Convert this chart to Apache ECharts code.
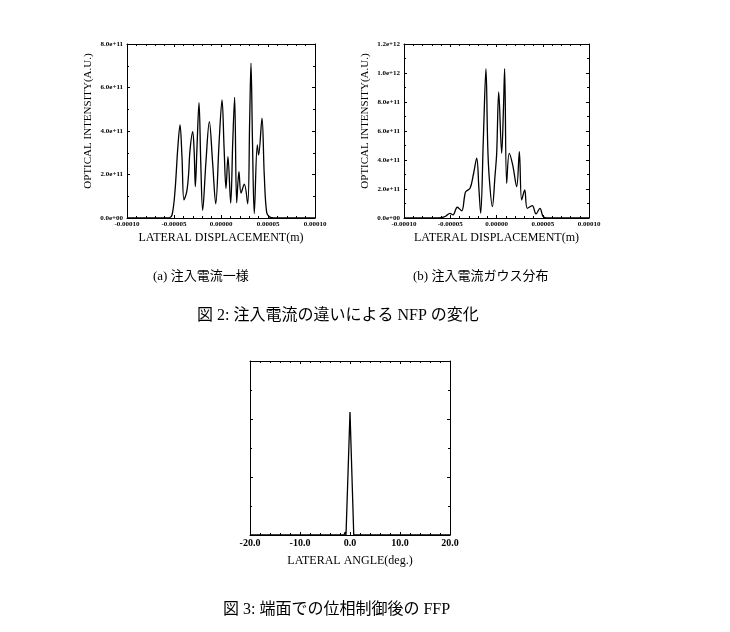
<!DOCTYPE html>
<html>
<head>
<meta charset="utf-8">
<script src="https://cdn.jsdelivr.net/npm/echarts@6/dist/echarts.min.js"></script>
<style>html,body{margin:0;padding:0;background:#fff;}#c{width:730px;height:632px;}</style>
</head>
<body>
<div id="c"></div>
<script>
// (a) uniform injection current: lateral displacement (m) vs optical intensity
var aX = [-1.0e-4,-6.0e-5,-5.5e-5,-5.2e-5,-4.9e-5,-4.6e-5,-4.36e-5,-4.15e-5,-3.94e-5,-3.65e-5,-3.45e-5,-3.30e-5,-3.01e-5,-2.85e-5,-2.73e-5,-2.55e-5,-2.34e-5,-2.15e-5,-1.95e-5,-1.6e-5,-1.24e-5,-0.9e-5,-0.56e-5,-0.2e-5,0.11e-5,0.33e-5,0.53e-5,0.74e-5,1.03e-5,1.25e-5,1.45e-5,1.67e-5,1.91e-5,2.13e-5,2.48e-5,2.84e-5,3.05e-5,3.19e-5,3.35e-5,3.54e-5,3.86e-5,4.0e-5,4.36e-5,4.6e-5,4.86e-5,5.2e-5,5.6e-5,1.0e-4];
var aY = [0,0,0.01e11,0.15e11,1.2e11,3.2e11,4.28e11,2.8e11,0.83e11,1.2e11,2.0e11,3.1e11,3.97e11,3.0e11,1.44e11,3.3e11,5.3e11,2.5e11,0.35e11,2.6e11,4.43e11,2.6e11,0.65e11,3.5e11,5.43e11,3.2e11,1.36e11,2.82e11,0.68e11,3.5e11,5.55e11,0.7e11,2.13e11,1.15e11,1.56e11,0.65e11,4.5e11,7.12e11,3.5e11,0.2e11,3.36e11,2.9e11,4.59e11,2.0e11,0.25e11,0.04e11,0.005e11,0];
// (b) Gaussian injection current
var bX = [-1.0e-4,-6.5e-5,-6.0e-5,-5.5e-5,-5.03e-5,-4.7e-5,-4.24e-5,-3.76e-5,-3.45e-5,-3.33e-5,-2.86e-5,-2.5e-5,-2.14e-5,-1.9e-5,-1.71e-5,-1.42e-5,-1.14e-5,-0.95e-5,-0.78e-5,-0.45e-5,-0.15e-5,0.02e-5,0.24e-5,0.56e-5,0.75e-5,0.88e-5,1.1e-5,1.38e-5,1.75e-5,2.18e-5,2.47e-5,2.72e-5,3.05e-5,3.33e-5,3.87e-5,4.27e-5,4.7e-5,5.0e-5,5.24e-5,5.6e-5,1.0e-4];
var bY = [0,0,0.02e11,0.12e11,0.32e11,0.22e11,0.74e11,0.5e11,1.5e11,1.81e11,2.05e11,3.0e11,4.12e11,2.0e11,0.32e11,5.5e11,10.3e11,5.0e11,2.74e11,0.78e11,3.0e11,4.46e11,8.7e11,4.46e11,7.5e11,10.3e11,2.39e11,4.46e11,3.66e11,2.16e11,4.57e11,1.24e11,1.93e11,0.67e11,0.85e11,0.28e11,0.67e11,0.15e11,0.02e11,0,0];
// Fig.3 far-field pattern: lateral angle (deg) vs intensity
var cX = [-20,-1.2,-0.95,-0.8,0,0.75,20];
var cY = [0,0,0.05,0,2.12,0,0];
// tick settings
var dispTicks = {min:-1.0e-4, max:1.0e-4, interval:5e-5};
var aTicks = {min:0, max:8e11, interval:2e11};
var bTicks = {min:0, max:1.2e12, interval:2e11};
var angTicks = {min:-20, max:20, interval:10};
var cTicks = {min:0, max:3, interval:1};
// captions
var capA = '(a) 注入電流一様';
var capB = '(b) 注入電流ガウス分布';
var cap2 = '図 2: 注入電流の違いによる NFP の変化';
var cap3 = '図 3: 端面での位相制御後の FFP';
var yName = 'OPTICAL INTENSITY(A.U.)';
var xNameD = 'LATERAL DISPLACEMENT(m)';
var xNameA = 'LATERAL ANGLE(deg.)';

function zip(x,y){return x.map(function(v,i){return [v,y[i]];});}
var SERIF = '"Liberation Serif","DejaVu Serif",serif';
var JP = '"Liberation Serif","Noto Sans CJK JP",serif';
function expFmt(v){
  if (Math.abs(v) < 1) return '0.0e+00';
  var s = v.toExponential(1); var p = s.split('e');
  var e = parseInt(p[1],10);
  return p[0] + 'e' + (e<0?'-':'+') + (Math.abs(e)<10?'0':'') + Math.abs(e);
}
function dispFmt(v){ if (Math.abs(v)<1e-12) return '0.00000'; return v.toFixed(5); }
var lineStyle = {color:'#000', width:1.3};
var axLine = {show:true, onZero:false, lineStyle:{color:'#000', width:1}};
var tickIn = {show:true, inside:true, length:3, lineStyle:{color:'#000'}};
var minorIn = {show:true, splitNumber:2, length:2, lineStyle:{color:'#000'}};

function lbl(fs){ return {fontFamily:SERIF, fontSize:fs, fontWeight:'bold', color:'#000'}; }

function xAx(g, t, pos, fmt, name, extra){
  var o = {type:'value', gridIndex:g, position:pos, min:t.min, max:t.max, interval:t.interval,
    axisLine:axLine, axisTick:tickIn, splitLine:{show:false},
    minorTick:{show:true, splitNumber:5, length:2, lineStyle:{color:'#000'}},
    axisLabel: pos==='bottom' ? Object.assign({formatter:fmt, margin:3}, lbl(extra.lfs)) : {show:false}};
  if (name){ o.name=name; o.nameLocation='middle'; o.nameGap=extra.gap;
    o.nameTextStyle={fontFamily:SERIF, fontSize:extra.fs, color:'#000'}; }
  return o;
}
function yAx(g, t, pos, fmt, name, extra){
  var o = {type:'value', gridIndex:g, position:pos, min:t.min, max:t.max, interval:t.interval,
    axisLine:axLine, axisTick:tickIn, splitLine:{show:false}, minorTick:minorIn,
    axisLabel: (pos==='left' && fmt) ? Object.assign({formatter:fmt, margin:4}, lbl(7)) : {show:false}};
  if (name){ o.name=name; o.nameLocation='middle'; o.nameGap=extra.gap; o.nameRotate=90;
    o.nameTextStyle={fontFamily:SERIF, fontSize:extra.fs, color:'#000', padding:[0,0,0,20]}; }
  return o;
}

var chart = echarts.init(document.getElementById('c'), null, {renderer:'canvas'});
chart.setOption({
  backgroundColor:'#fff',
  animation:false,
  grid:[
    {left:127, top:44, width:188, height:174},
    {left:404, top:44, width:185, height:174},
    {left:250, top:361, width:200, height:174}
  ],
  xAxis:[
    xAx(0, dispTicks, 'bottom', dispFmt, xNameD, {gap:14, fs:12, lfs:7}),
    xAx(0, dispTicks, 'top', null, null, {}),
    xAx(1, dispTicks, 'bottom', dispFmt, xNameD, {gap:14, fs:12, lfs:7}),
    xAx(1, dispTicks, 'top', null, null, {}),
    xAx(2, angTicks, 'bottom', function(v){return v.toFixed(1);}, xNameA, {gap:20, fs:12, lfs:10}),
    xAx(2, angTicks, 'top', null, null, {})
  ],
  yAxis:[
    yAx(0, aTicks, 'left', expFmt, yName, {gap:33, fs:11}),
    yAx(0, aTicks, 'right'),
    yAx(1, bTicks, 'left', expFmt, yName, {gap:33, fs:11}),
    yAx(1, bTicks, 'right'),
    yAx(2, cTicks, 'left'),
    yAx(2, cTicks, 'right')
  ],
  series:[
    {type:'line', xAxisIndex:0, yAxisIndex:0, data:zip(aX,aY), smooth:0.35, showSymbol:false, lineStyle:lineStyle},
    {type:'line', xAxisIndex:2, yAxisIndex:2, data:zip(bX,bY), smooth:0.35, showSymbol:false, lineStyle:lineStyle},
    {type:'line', xAxisIndex:4, yAxisIndex:4, data:zip(cX,cY), smooth:false, showSymbol:false, lineStyle:lineStyle}
  ],
  title:[
    {text:capA, left:148, top:265, textStyle:{fontFamily:JP, fontSize:13, fontWeight:'normal', color:'#000'}},
    {text:capB, left:408, top:265, textStyle:{fontFamily:JP, fontSize:13, fontWeight:'normal', color:'#000'}},
    {text:cap2, left:192, top:303, textStyle:{fontFamily:JP, fontSize:16, fontWeight:'normal', color:'#000'}},
    {text:cap3, left:218, top:597, textStyle:{fontFamily:JP, fontSize:16, fontWeight:'normal', color:'#000'}}
  ]
});
</script>
</body>
</html>
